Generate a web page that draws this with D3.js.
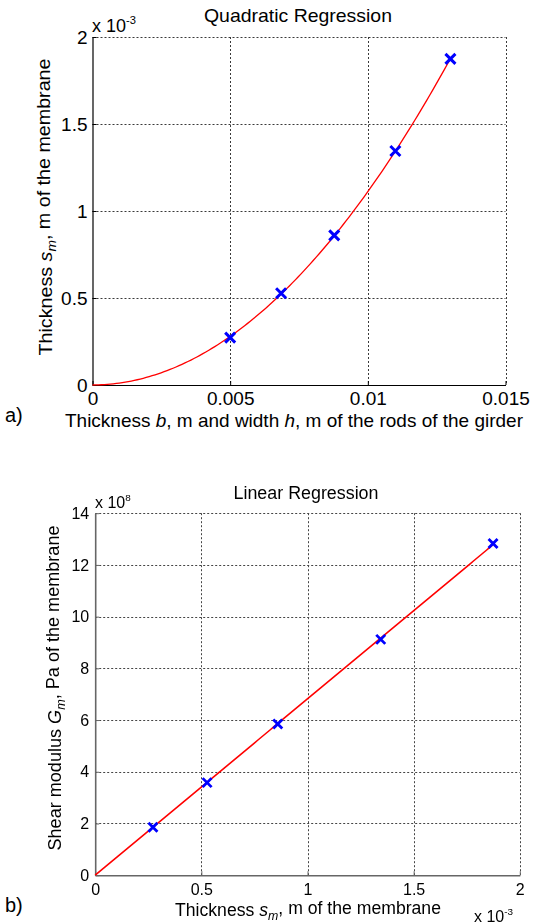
<!DOCTYPE html>
<html>
<head>
<meta charset="utf-8">
<script src="https://cdn.jsdelivr.net/npm/d3@7"></script>
<style>
  body { margin: 0; background: #fff; }
  svg { display: block; }
  text { font-family: "Liberation Sans", Arial, Helvetica, sans-serif; fill: #000; }
</style>
</head>
<body>
<svg id="fig" width="533" height="924"></svg>
<script>
// Panel (a): membrane thickness against the rod size of the girder
const rodSize = [0.005, 0.00685, 0.00878, 0.011, 0.013];                       // b = h, m
const membraneThickness = [0.272e-3, 0.527e-3, 0.86e-3, 1.345e-3, 1.874e-3];   // s_m, m

// Panel (b): shear modulus against membrane thickness
const shearThickness = [0.272e-3, 0.527e-3, 0.86e-3, 1.345e-3, 1.874e-3];      // s_m, m
const shearModulus = [1.85e8, 3.58e8, 5.85e8, 9.12e8, 12.83e8];                // G_m, Pa

// Tick values and their labels
const aXTicks = [0, 0.005, 0.01, 0.015];
const aXTickLabels = ["0", "0.005", "0.01", "0.015"];
const aYTicks = [0, 0.5e-3, 1e-3, 1.5e-3, 2e-3];
const aYTickLabels = ["0", "0.5", "1", "1.5", "2"];
const bXTicks = [0, 0.5e-3, 1e-3, 1.5e-3, 2e-3];
const bXTickLabels = ["0", "0.5", "1", "1.5", "2"];
const bYTicks = [0, 2e8, 4e8, 6e8, 8e8, 10e8, 12e8, 14e8];
const bYTickLabels = ["0", "2", "4", "6", "8", "10", "12", "14"];

// Least-squares fits through the origin
function fitQuadratic(xs, ys) {
  // y = a x^2 + b x
  let s4 = 0, s3 = 0, s2 = 0, t2 = 0, t1 = 0;
  xs.forEach((x, i) => {
    const y = ys[i];
    s4 += x ** 4; s3 += x ** 3; s2 += x ** 2;
    t2 += x * x * y; t1 += x * y;
  });
  const det = s4 * s2 - s3 * s3;
  const a = (t2 * s2 - s3 * t1) / det;
  const b = (s4 * t1 - s3 * t2) / det;
  return x => a * x * x + b * x;
}
function fitLinear(xs, ys) {
  let sxy = 0, sxx = 0;
  xs.forEach((x, i) => { sxy += x * ys[i]; sxx += x * x; });
  const k = sxy / sxx;
  return x => k * x;
}

const svg = d3.select("#fig");

function addRichText(sel, parts) {
  parts.forEach(p => {
    const t = sel.append("tspan").text(p.t);
    if (p.it) t.attr("font-style", "italic");
    if (p.sub) t.attr("font-size", "70%").attr("dy", "0.32em");
    if (p.back) t.attr("dy", "-0.32em");
  });
}

function drawPanel(cfg) {
  const x = d3.scaleLinear().domain(cfg.xDomain).range([cfg.left, cfg.right]);
  const y = d3.scaleLinear().domain(cfg.yDomain).range([cfg.bottom, cfg.top]);
  const g = svg.append("g");
  if (cfg.blur) g.attr("filter", "url(#soft)");

  // dotted grid
  const grid = g.append("g")
    .attr("stroke", cfg.gridColor).attr("stroke-width", 1)
    .attr("stroke-dasharray", "2,2").attr("fill", "none");
  grid.selectAll("line.v").data(cfg.xTicks.filter(d => d > 0)).join("line")
    .attr("class", "v")
    .attr("x1", d => Math.round(x(d)) + 0.5).attr("x2", d => Math.round(x(d)) + 0.5)
    .attr("y1", cfg.top).attr("y2", cfg.bottom);
  grid.selectAll("line.h").data(cfg.yTicks.filter(d => d > 0)).join("line")
    .attr("class", "h")
    .attr("y1", d => Math.round(y(d)) + 0.5).attr("y2", d => Math.round(y(d)) + 0.5)
    .attr("x1", cfg.left).attr("x2", cfg.right);

  // axes with inward ticks
  const xAxis = d3.axisBottom(x).tickValues(cfg.xTicks)
    .tickFormat((d, i) => cfg.xTickLabels[i])
    .tickSizeInner(-4).tickSizeOuter(0).tickPadding(cfg.xPad);
  const yAxis = d3.axisLeft(y).tickValues(cfg.yTicks)
    .tickFormat((d, i) => cfg.yTickLabels[i])
    .tickSizeInner(-4).tickSizeOuter(0).tickPadding(cfg.yPad);

  const gx = g.append("g").attr("transform", `translate(0,${cfg.bottom})`).call(xAxis);
  const gy = g.append("g").attr("transform", `translate(${cfg.left},0)`).call(yAxis);
  [gx, gy].forEach(a => {
    a.select(".domain").attr("stroke", cfg.axisColor).attr("stroke-width", cfg.axisWidth);
    a.selectAll(".tick line").attr("stroke", cfg.axisColor);
    a.selectAll(".tick text").attr("font-size", cfg.tickFont)
      .attr("font-family", '"Liberation Sans", Arial, sans-serif').attr("fill", "#000");
  });

  // fitted curve
  const xmax = d3.max(cfg.xs);
  const curve = d3.range(0, 121).map(i => {
    const xv = xmax * i / 120;
    return [xv, cfg.fit(xv)];
  });
  g.append("path").datum(curve)
    .attr("fill", "none").attr("stroke", "#ff0000").attr("stroke-width", cfg.lineWidth)
    .attr("d", d3.line().x(d => x(d[0])).y(d => y(d[1])));

  // measured points as crosses
  const m = cfg.markerHalf;
  g.append("g").selectAll("path").data(cfg.xs.map((xv, i) => [xv, cfg.ys[i]])).join("path")
    .attr("fill", "none").attr("stroke", "#0000ff").attr("stroke-width", cfg.markerWidth)
    .attr("d", d => {
      const px = x(d[0]), py = y(d[1]);
      return `M${px - m},${py - m}L${px + m},${py + m}M${px - m},${py + m}L${px + m},${py - m}`;
    });

  // title
  g.append("text").attr("x", cfg.titleX).attr("y", cfg.titleY)
    .attr("text-anchor", "middle").attr("font-size", cfg.titleFont)
    .attr("textLength", cfg.titleLen).attr("lengthAdjust", "spacingAndGlyphs")
    .text(cfg.title);

  // axis labels
  const xl = g.append("text").attr("x", cfg.xLabelX).attr("y", cfg.xLabelY)
    .attr("text-anchor", "middle").attr("font-size", cfg.labelFont)
    .attr("textLength", cfg.xLabelLen).attr("lengthAdjust", "spacingAndGlyphs");
  addRichText(xl, cfg.xLabel);
  const yl = g.append("text")
    .attr("transform", `translate(${cfg.yLabelX},${cfg.yLabelY}) rotate(-90)`)
    .attr("text-anchor", "middle").attr("font-size", cfg.labelFont)
    .attr("textLength", cfg.yLabelLen).attr("lengthAdjust", "spacingAndGlyphs");
  addRichText(yl, cfg.yLabel);

  // exponent multipliers
  cfg.exponents.forEach(e => {
    const t = g.append("text").attr("x", e.x).attr("y", e.y).attr("font-size", e.size);
    t.append("tspan").text("x 10");
    t.append("tspan").attr("font-size", "62%").attr("dy", "-0.75em").text(e.pow);
  });
}

const defs = svg.append("defs");
defs.append("filter").attr("id", "soft").attr("x", "-5%").attr("y", "-5%")
  .attr("width", "110%").attr("height", "110%")
  .append("feGaussianBlur").attr("stdDeviation", 0.35);

// Panel (a)
drawPanel({
  xs: rodSize, ys: membraneThickness, fit: fitQuadratic(rodSize, membraneThickness),
  xDomain: [0, 0.015], yDomain: [0, 2e-3],
  left: 92.5, right: 505.5, top: 37, bottom: 385,
  xTicks: aXTicks, xTickLabels: aXTickLabels, yTicks: aYTicks, yTickLabels: aYTickLabels,
  xPad: 7, yPad: 5, tickFont: 19,
  gridColor: "#3a3a3a", axisColor: "#000", axisWidth: 1.2,
  lineWidth: 1.3, markerHalf: 5, markerWidth: 3,
  title: "Quadratic Regression", titleX: 298, titleY: 22, titleFont: 19, titleLen: 188,
  labelFont: 19,
  xLabel: [{t: "Thickness "}, {t: "b", it: true}, {t: ", m and width "}, {t: "h", it: true}, {t: ", m of the rods of the girder"}],
  xLabelX: 294, xLabelY: 427, xLabelLen: 458,
  yLabel: [{t: "Thickness "}, {t: "s", it: true}, {t: "m", it: true, sub: true}, {t: ", m of the membrane", back: true}],
  yLabelX: 52, yLabelY: 207, yLabelLen: 297,
  exponents: [{x: 92, y: 32, size: 18, pow: "-3"}]
});

// Panel (b)
drawPanel({
  xs: shearThickness, ys: shearModulus, fit: fitLinear(shearThickness, shearModulus),
  xDomain: [0, 2e-3], yDomain: [0, 14e8],
  left: 95.2, right: 519.8, top: 513.2, bottom: 875.2,
  xTicks: bXTicks, xTickLabels: bXTickLabels, yTicks: bYTicks, yTickLabels: bYTickLabels,
  xPad: 8, yPad: 6, tickFont: 16,
  gridColor: "#444", axisColor: "#666", axisWidth: 1.6, blur: true,
  lineWidth: 1.6, markerHalf: 4.5, markerWidth: 2.8,
  title: "Linear Regression", titleX: 306, titleY: 499, titleFont: 17.5, titleLen: 145,
  labelFont: 17.5,
  xLabel: [{t: "Thickness "}, {t: "s", it: true}, {t: "m", it: true, sub: true}, {t: ", m of the membrane", back: true}],
  xLabelX: 308, xLabelY: 916, xLabelLen: 266,
  yLabel: [{t: "Shear modulus "}, {t: "G", it: true}, {t: "m", it: true, sub: true}, {t: ", Pa of the membrane", back: true}],
  yLabelX: 61, yLabelY: 688, yLabelLen: 325,
  exponents: [{x: 95, y: 508, size: 16, pow: "8"}, {x: 474, y: 922, size: 16, pow: "-3"}]
});

// panel letters
svg.append("text").attr("x", 5).attr("y", 422)
  .attr("font-family", '"Liberation Serif", "Times New Roman", serif')
  .attr("font-size", 20).text("a)");
svg.append("text").attr("x", 5).attr("y", 912)
  .attr("font-family", '"Liberation Serif", "Times New Roman", serif')
  .attr("font-size", 20).text("b)");
</script>
</body>
</html>
